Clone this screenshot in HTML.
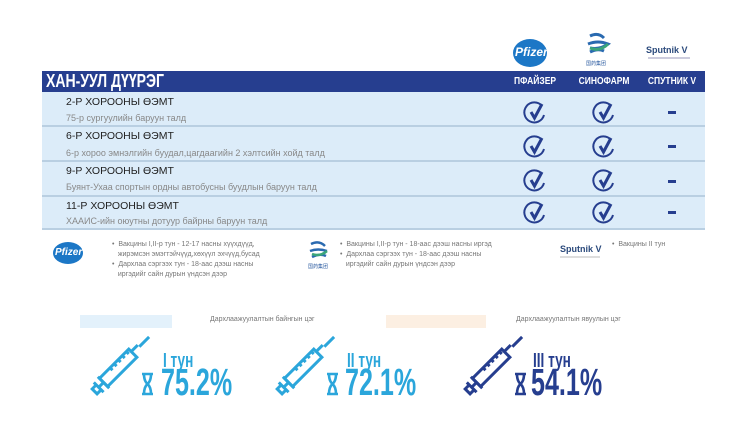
<!DOCTYPE html>
<html><head><meta charset="utf-8"><style>
body{margin:0;width:750px;height:440px;background:#fff;position:relative;overflow:hidden;font-family:"Liberation Sans",sans-serif}
.a{position:absolute;white-space:nowrap}
.n{font-family:"Liberation Sans Narrow","Liberation Sans",sans-serif;font-weight:bold}
.row{position:absolute;left:42px;width:663px;background:#dcecf9;border-bottom:2px solid #b9cfe2}
.t{position:absolute;left:24px;font-size:10.5px;color:#222}
.s{position:absolute;left:24px;font-size:9px;color:#888}
.leg{font-size:7px;color:#777;line-height:10px}
</style></head><body>
<div class="a" style="left:513px;top:39px;width:34px;height:28px;border-radius:50%;background:#1c77c6"></div>
<div class="a" style="left:515px;top:45px;font:italic bold 12px 'Liberation Sans',sans-serif;color:#fff">Pfizer</div>
<svg class="a" style="left:585px;top:32px" width="26" height="36"><path d="M5 4 q8 -4 14 2 M3 12 q10 -4 20 0 q-8 6 -18 4 M5 20 q8 -4 14 -1" stroke="#2a6ab0" stroke-width="3" fill="none"/><path d="M5 16 q10 4 18 -4" stroke="#3aa57a" stroke-width="3" fill="none"/><text x="1" y="33" font-size="5" fill="#2a5aa0">国药集团</text></svg>
<div class="a" style="left:646px;top:45px;font:bold 9px 'Liberation Sans',sans-serif;color:#2b4a7c">Sputnik V</div>
<div class="a" style="left:648px;top:57px;width:42px;height:2px;background:#ccd"></div>
<div class="a" style="left:42px;top:71px;width:663px;height:21px;background:#263e8f"></div>
<div class="a n" style="left:46px;top:71px;font-size:18px;color:#fff;transform:scaleX(.78);transform-origin:left">ХАН-УУЛ ДҮҮРЭГ</div>
<div class="a n" style="left:505px;top:76px;width:60px;text-align:center;font-size:10px;color:#fff;transform:scaleX(.85)">ПФАЙЗЕР</div>
<div class="a n" style="left:574px;top:76px;width:60px;text-align:center;font-size:10px;color:#fff;transform:scaleX(.85)">СИНОФАРМ</div>
<div class="a n" style="left:642px;top:76px;width:60px;text-align:center;font-size:10px;color:#fff;transform:scaleX(.85)">СПУТНИК V</div>
<div class="row" style="top:92px;height:33px"><div class="t" style="top:4px">2-Р ХОРООНЫ ӨЭМТ</div><div class="s" style="top:21px">75-р сургуулийн баруун талд</div></div>
<div class="row" style="top:127px;height:33px"><div class="t" style="top:3px">6-Р ХОРООНЫ ӨЭМТ</div><div class="s" style="top:21px">6-р хороо эмнэлгийн буудал,цагдаагийн 2 хэлтсийн хойд талд</div></div>
<div class="row" style="top:162px;height:33px"><div class="t" style="top:3px">9-Р ХОРООНЫ ӨЭМТ</div><div class="s" style="top:20px">Буянт-Ухаа спортын ордны автобусны буудлын баруун талд</div></div>
<div class="row" style="top:197px;height:31px"><div class="t" style="top:3px">11-Р ХОРООНЫ ӨЭМТ</div><div class="s" style="top:19px">ХААИС-ийн оюутны дотуур байрны баруун талд</div></div>
<svg class="a" style="left:0;top:0" width="750" height="240">
<defs><g id="c"><path d="M7 -7 A10 10 0 1 0 9 2" fill="none" stroke="#263e8f" stroke-width="2"/><path d="M-4 -1 L-0.5 5 L7 -9" fill="none" stroke="#263e8f" stroke-width="3"/></g></defs>
<use href="#c" x="535" y="113"/><use href="#c" x="604" y="113"/>
<use href="#c" x="535" y="147"/><use href="#c" x="604" y="147"/>
<use href="#c" x="535" y="181"/><use href="#c" x="604" y="181"/>
<use href="#c" x="535" y="213"/><use href="#c" x="604" y="213"/>
<g fill="#263e8f"><rect x="668" y="111" width="8" height="3"/><rect x="668" y="145" width="8" height="3"/><rect x="668" y="180" width="8" height="3"/><rect x="668" y="211" width="8" height="3"/></g>
</svg>
<div class="a" style="left:53px;top:242px;width:30px;height:22px;border-radius:50%;background:#1c77c6"></div>
<div class="a" style="left:55px;top:247px;font:italic bold 10px 'Liberation Sans',sans-serif;color:#fff">Pfizer</div>
<div class="a leg" style="left:112px;top:240px">•&nbsp; Вакцины I,II-р тун - 12-17 насны хүүхдүүд,<br>&nbsp;&nbsp; жирэмсэн эмэгтэйчүүд,хөхүүл эхчүүд,бусад<br>•&nbsp; Дархлаа сэргээх тун - 18-аас дээш насны<br>&nbsp;&nbsp; иргэдийг сайн дурын үндсэн дээр</div>
<svg class="a" style="left:308px;top:240px" width="22" height="32"><path d="M3 4 q8 -4 14 2 M2 11 q8 -3 17 0 M4 17 q8 -4 14 -1" stroke="#2a6ab0" stroke-width="2.5" fill="none"/><path d="M4 14 q8 3 15 -3" stroke="#3aa57a" stroke-width="2.5" fill="none"/><text x="0" y="28" font-size="5" fill="#2a5aa0">国药集团</text></svg>
<div class="a leg" style="left:340px;top:240px">•&nbsp; Вакцины I,II-р тун - 18-аас дээш насны иргэд<br>•&nbsp; Дархлаа сэргээх тун - 18-аас дээш насны<br>&nbsp;&nbsp; иргэдийг сайн дурын үндсэн дээр</div>
<div class="a" style="left:560px;top:244px;font:bold 9px 'Liberation Sans',sans-serif;color:#2b4a7c">Sputnik V</div>
<div class="a" style="left:560px;top:256px;width:40px;height:2px;background:#ddd"></div>
<div class="a leg" style="left:612px;top:240px">•&nbsp; Вакцины II тун</div>
<div class="a" style="left:80px;top:315px;width:92px;height:13px;background:#e3f1fb"></div>
<div class="a leg" style="left:210px;top:315px">Дархлаажуулалтын байнгын цэг</div>
<div class="a" style="left:386px;top:315px;width:100px;height:13px;background:#fcefe2"></div>
<div class="a leg" style="left:516px;top:315px">Дархлаажуулалтын явуулын цэг</div>
<svg class="a" style="left:0;top:0" width="750" height="440">
<defs>
<g id="sy" fill="none" stroke-width="2.6">
 <g transform="rotate(-45) scale(1.15)"><rect x="-3" y="-5" width="36" height="10"/><path d="M33 -2 h8 M41 0 h12 M-3 -7 v14 M-3 0 h-6 M-9 -6 v12 M-9 -3 h-5 v6 h5"/><path d="M10 -5 v3 M15 -5 v3 M20 -5 v3 M25 -5 v3 M30 -5 v3"/></g>
 <path d="M36 -6 h11 M36 14 h11 M38 -6 q0 7 3.5 10 q3.5 3 3.5 10 M45 -6 q0 7 -3.5 10 q-3.5 3 -3.5 10"/>
</g></defs>
<use href="#sy" x="106" y="380" stroke="#2ba6db"/>
<use href="#sy" x="291" y="380" stroke="#2ba6db"/>
<use href="#sy" x="479" y="380" stroke="#263e8f"/>
</svg>
<div class="a n" style="left:163px;top:350px;font-size:20px;color:#2ba6db;transform:scaleX(.68);transform-origin:left">I тун</div>
<div class="a n" style="left:161px;top:362px;font-size:38px;color:#2ba6db;transform:scaleX(.66);transform-origin:left">75.2%</div>
<div class="a n" style="left:347px;top:350px;font-size:20px;color:#2ba6db;transform:scaleX(.68);transform-origin:left">II тун</div>
<div class="a n" style="left:345px;top:362px;font-size:38px;color:#2ba6db;transform:scaleX(.66);transform-origin:left">72.1%</div>
<div class="a n" style="left:533px;top:350px;font-size:20px;color:#263e8f;transform:scaleX(.68);transform-origin:left">III тун</div>
<div class="a n" style="left:531px;top:362px;font-size:38px;color:#263e8f;transform:scaleX(.66);transform-origin:left">54.1%</div>
</body></html>
